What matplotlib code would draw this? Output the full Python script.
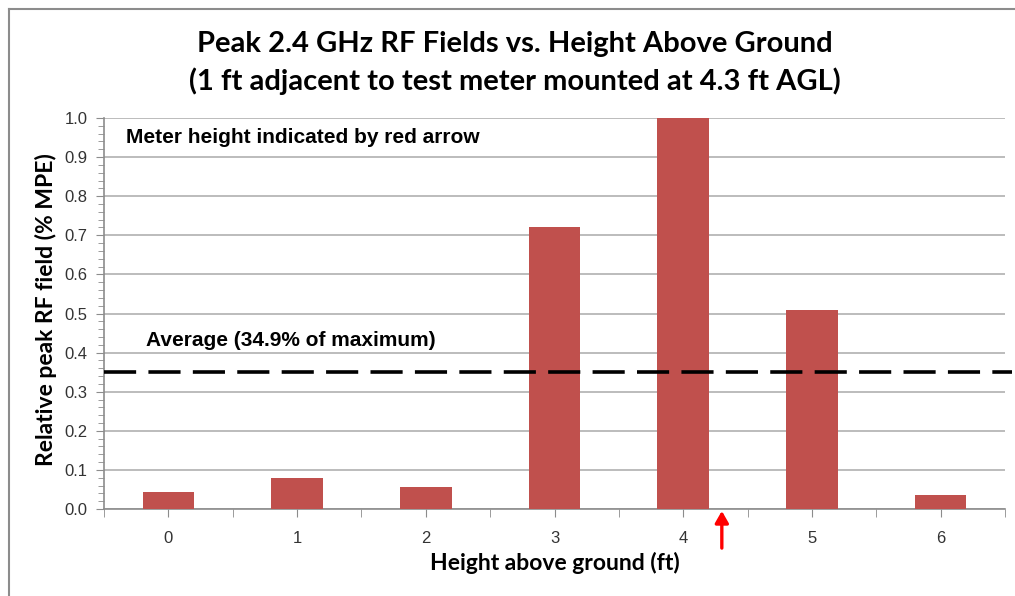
import matplotlib
matplotlib.use("Agg")
import matplotlib.pyplot as plt
from matplotlib.lines import Line2D
import numpy as np

heights = [0, 1, 2, 3, 4, 5, 6]
tick_labels = ["0", "1", "2", "3", "4", "5", "6"]
rel_field = [0.043, 0.080, 0.057, 0.722, 1.0, 0.508, 0.035]
average = 0.351
meter_height = 4.3

W, H = 1015, 596
fig = plt.figure(figsize=(W / 100, H / 100), dpi=100)
ax = fig.add_axes([104 / W, 1 - 509 / H, (1005 - 104) / W, (509 - 118) / H])

gray = "#8c8c8c"
bar_color = "#C0504D"

ax.bar(heights, rel_field, width=0.4, color=bar_color, zorder=3)

ax.set_xlim(-0.5, 6.5)
ax.set_ylim(0, 1.0)
ax.set_yticks(np.arange(0, 1.01, 0.1))
ax.set_yticklabels([f"{v:.1f}" for v in np.arange(0, 1.01, 0.1)])
ax.set_yticks(np.arange(0, 1.001, 0.02), minor=True)
ax.set_xticks(heights)
ax.set_xticklabels(tick_labels)
ax.set_xticks(np.arange(-0.5, 6.6, 1.0), minor=True)

ax.grid(axis="y", which="major", color="#b0b0b0", linewidth=1.2, zorder=0)
for s in ["top", "right"]:
    ax.spines[s].set_visible(False)
for s in ["left", "bottom"]:
    ax.spines[s].set_color(gray)
    ax.spines[s].set_linewidth(1.2)

ax.tick_params(axis="y", which="major", direction="out", length=6, color=gray,
               labelsize=12, labelcolor="#333333", pad=6)
ax.tick_params(axis="y", which="minor", direction="out", length=4, color=gray)
ax.tick_params(axis="x", which="both", direction="out", length=6, color=gray,
               labelsize=12, labelcolor="#333333", pad=10)
for lab in ax.get_yticklabels() + ax.get_xticklabels():
    lab.set_family(["Liberation Sans", "DejaVu Sans"])

ax.axhline(average, xmin=0, xmax=1.008, color="black", linewidth=2.6,
           linestyle=(0, (8.9, 3.4)), clip_on=False, zorder=4)

ax.text(146 / W, 1 - 340 / H, "Average (34.9% of maximum)", transform=fig.transFigure,
        fontsize=15, fontweight="bold", family="Liberation Sans", va="center", ha="left")
ax.text(126 / W, 1 - 138 / H, "Meter height indicated by red arrow", transform=fig.transFigure,
        fontsize=15, fontweight="bold", family="Liberation Sans", va="center", ha="left")

ax.annotate("", xy=(meter_height, -0.005), xycoords=("data", "axes fraction"),
            xytext=(meter_height, -0.1), textcoords=("data", "axes fraction"),
            arrowprops=dict(arrowstyle="-|>,head_length=0.7,head_width=0.4", color="red",
                            lw=2.4, shrinkA=0, shrinkB=0), annotation_clip=False)

fig.text(515 / W, 1 - 44 / H, "Peak 2.4 GHz RF Fields vs. Height Above Ground",
         fontsize=21, fontweight="bold", family="Lato", ha="center", va="center")
fig.text(515 / W, 1 - 81 / H, "(1 ft adjacent to test meter mounted at 4.3 ft AGL)",
         fontsize=21, fontweight="bold", family="Lato", ha="center", va="center")

fig.text(46 / W, 1 - 310 / H, "Relative peak RF field (% MPE)", rotation=90,
         fontsize=16.5, fontweight="bold", family="Lato", ha="center", va="center")
fig.text(555 / W, 1 - 563 / H, "Height above ground (ft)",
         fontsize=16.5, fontweight="bold", family="Lato", ha="center", va="center")

# outer frame lines (left and top)
fig.add_artist(Line2D([8.5 / W, 8.5 / W], [0, 1 - 8.5 / H], transform=fig.transFigure,
                      color=gray, linewidth=1.5))
fig.add_artist(Line2D([8.5 / W, 1], [1 - 8.5 / H, 1 - 8.5 / H], transform=fig.transFigure,
                      color=gray, linewidth=1.5))

fig.savefig("out.png", dpi=100)
